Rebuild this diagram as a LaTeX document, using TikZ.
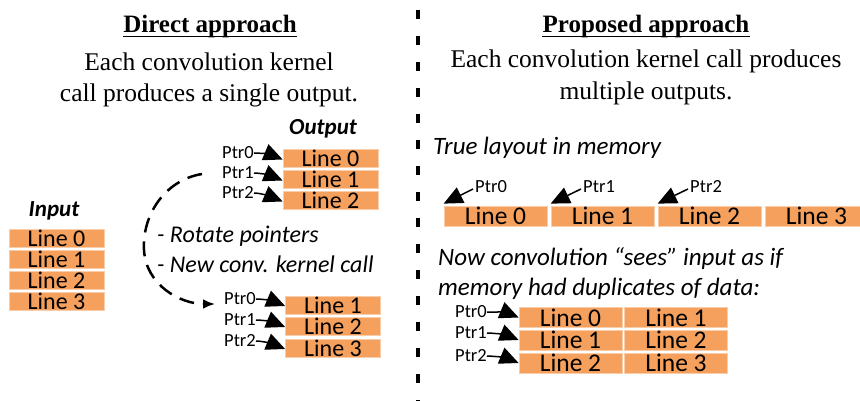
\documentclass[tikz,border=0pt]{standalone}
\usepackage{fontspec}
\setmainfont{Liberation Serif}
\newfontfamily\calfont{Carlito}
\usetikzlibrary{arrows.meta}
\definecolor{cellfill}{RGB}{245,160,92}
\definecolor{celledge}{RGB}{250,205,170}

\begin{document}
\begin{tikzpicture}[x=1pt,y=-1pt,
  cell/.style={fill=cellfill, draw=celledge, line width=0.7pt, inner sep=0pt,
    minimum width=95pt, minimum height=18pt,
    font=\calfont\fontsize{24}{24}\selectfont},
  wcell/.style={cell, minimum width=103pt, minimum height=20pt,
    font=\calfont\fontsize{25.5}{25.5}\selectfont},
  ptrlabel/.style={inner sep=0pt, font=\calfont\fontsize{18.5}{18.5}\selectfont},
  ptrarrow/.style={line width=1.5pt, -{Triangle[length=19pt,width=17pt]}},
  title/.style={inner sep=0pt, anchor=base, font=\bfseries\fontsize{25}{25}\selectfont},
  body/.style={inner sep=0pt, anchor=base, font=\fontsize{25.5}{25.5}\selectfont},
  note/.style={inner sep=0pt, font=\calfont\itshape\fontsize{24}{24}\selectfont},
  heading/.style={inner sep=0pt, font=\calfont\bfseries\itshape\fontsize{23}{23}\selectfont},
  looparrow/.style={line width=2.5pt, dash pattern=on 15pt off 9pt,
    -{Latex[length=12pt,width=10pt]}}]

\useasboundingbox (0,0) rectangle (860,401);

% divider between the two halves
\draw[line width=3.2pt, dash pattern=on 9pt off 17pt] (418,10) -- (418,401);

% ---------- left half: direct approach ----------
\node[title] (t1) at (210,33) {Direct approach};
\draw[line width=1.6pt] ([yshift=-3.5pt]t1.base west) -- ([yshift=-3.5pt]t1.base east);
\node[body] (d1) at (209,71) {Each convolution kernel};
\node[body] (d2) at (209,102) {call produces a single output.};

% input lines
\node[heading] (inlab) at (54,211) {Input};
\node[cell] (i0) at (56.5,238) {Line 0};
\node[cell] (i1) at (56.5,259) {Line 1};
\node[cell] (i2) at (56.5,280.5) {Line 2};
\node[cell] (i3) at (56.5,301.5) {Line 3};

% output lines, first kernel call
\node[heading] (outlab) at (323,129) {Output};
\node[cell] (o0) at (330.5,158.5) {Line 0};
\node[cell] (o1) at (330.5,179.5) {Line 1};
\node[cell] (o2) at (330.5,200.5) {Line 2};
\node[ptrlabel, anchor=east] (p0) at (254,153) {Ptr0};
\node[ptrlabel, anchor=east] (p1) at (254,173) {Ptr1};
\node[ptrlabel, anchor=east] (p2) at (254,193) {Ptr2};
\draw[ptrarrow] (p0.east) .. controls +(6,0) and +(-12,-5) .. ([yshift=-1pt]o0.west);
\draw[ptrarrow] (p1.east) .. controls +(6,0) and +(-12,-5) .. ([yshift=-1pt]o1.west);
\draw[ptrarrow] (p2.east) .. controls +(6,0) and +(-12,-5) .. ([yshift=-1pt]o2.west);

% output lines, next kernel call
\node[cell] (n0) at (333,305) {Line 1};
\node[cell] (n1) at (333,326) {Line 2};
\node[cell] (n2) at (333,348) {Line 3};
\node[ptrlabel, anchor=east] (q0) at (256,299) {Ptr0};
\node[ptrlabel, anchor=east] (q1) at (256,320) {Ptr1};
\node[ptrlabel, anchor=east] (q2) at (256,341) {Ptr2};
\draw[ptrarrow] (q0.east) .. controls +(6,0) and +(-12,-5) .. ([yshift=-1pt]n0.west);
\draw[ptrarrow] (q1.east) .. controls +(6,0) and +(-12,-5) .. ([yshift=-1pt]n1.west);
\draw[ptrarrow] (q2.east) .. controls +(6,0) and +(-12,-5) .. ([yshift=-1pt]n2.west);

% pointer rotation between the calls
\coordinate (ls) at (202,174);
\coordinate (lm) at (144,250);
\coordinate (le) at (215,304);
\draw[looparrow] (ls) .. controls (165,180) and (142,215) .. (lm)
  .. controls (146,285) and (180,304) .. (le);
\node[note, anchor=west] (r1) at (157,236) {- Rotate pointers};
\node[note, anchor=west] (r2) at (157,264) {- New conv. kernel call};

% ---------- right half: proposed approach ----------
\node[title] (t2) at (646,33) {Proposed approach};
\draw[line width=1.6pt] ([yshift=-3.5pt]t2.base west) -- ([yshift=-3.5pt]t2.base east);
\node[body] (e1) at (646,68) {Each convolution kernel call produces};
\node[body] (e2) at (646,100) {multiple outputs.};

% memory layout
\node[note, anchor=west, font=\calfont\itshape\fontsize{25}{25}\selectfont] (tl) at (433,148) {True layout in memory};
\node[wcell] (m0) at (495.5,216) {Line 0};
\node[wcell] (m1) at (602.5,216) {Line 1};
\node[wcell] (m2) at (709.5,216) {Line 2};
\node[wcell] (m3) at (816.5,216) {Line 3};
\node[ptrlabel, anchor=west] (a0) at (475,187) {Ptr0};
\node[ptrlabel, anchor=west] (a1) at (583,187) {Ptr1};
\node[ptrlabel, anchor=west] (a2) at (690,187) {Ptr2};
\draw[ptrarrow] ([xshift=-2pt,yshift=-2pt]a0.west) -- ([yshift=2pt]m0.north west);
\draw[ptrarrow] ([xshift=-2pt,yshift=-2pt]a1.west) -- ([yshift=2pt]m1.north west);
\draw[ptrarrow] ([xshift=-2pt,yshift=-2pt]a2.west) -- ([yshift=2pt]m2.north west);

% the view seen by the convolution
\node[note, anchor=base west, font=\calfont\itshape\fontsize{25}{25}\selectfont] (v1) at (438,265) {Now convolution “sees” input as if};
\node[note, anchor=base west, font=\calfont\itshape\fontsize{25}{25}\selectfont] (v2) at (438,295) {memory had duplicates of data:};
\node[wcell] (g00) at (570.5,317.5) {Line 0};
\node[wcell] (g01) at (676,317.5) {Line 1};
\node[wcell] (g10) at (570.5,340) {Line 1};
\node[wcell] (g11) at (676,340) {Line 2};
\node[wcell] (g20) at (570.5,363) {Line 2};
\node[wcell] (g21) at (676,363) {Line 3};
\node[ptrlabel, anchor=east] (b0) at (487,312) {Ptr0};
\node[ptrlabel, anchor=east] (b1) at (487,333) {Ptr1};
\node[ptrlabel, anchor=east] (b2) at (487,356) {Ptr2};
\draw[ptrarrow] (b0.east) .. controls +(6,0) and +(-12,-5) .. (g00.west);
\draw[ptrarrow] (b1.east) .. controls +(6,0) and +(-12,-5) .. (g10.west);
\draw[ptrarrow] (b2.east) .. controls +(6,0) and +(-12,-5) .. (g20.west);

\end{tikzpicture}
\end{document}
